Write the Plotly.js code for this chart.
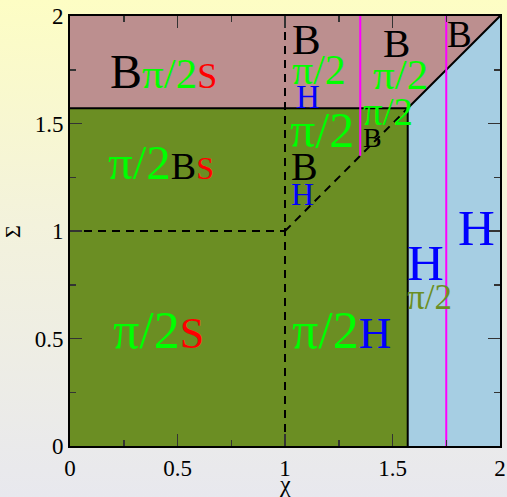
<!DOCTYPE html>
<html>
<head>
<meta charset="utf-8">
<script src="https://cdn.plot.ly/plotly-3.0.1.min.js"></script>
<style>
  html, body { margin: 0; padding: 0; }
  body { background: linear-gradient(to bottom, #fdfdc4 0%, #f3f2dc 45%, #e8e8ee 100%); width: 507px; height: 497px; }
  #plot { width: 507px; height: 497px; }
</style>
</head>
<body>
<div id="plot"></div>
<script>
// boundary value, pi/2
const P = Math.PI / 2;
const FONT = 'Liberation Serif';

// phase regions (polygons in chi, sigma)
const greenX = [0, P, P, 0, 0];
const greenY = [0, 0, P, P, 0];
const rosyX = [0, P, 2, 0, 0];
const rosyY = [P, P, 2, 2, P];
const blueX = [P, 2, 2, P, P];
const blueY = [0, 0, 2, P, 0];

// solid boundaries
const solidX = [0, P, null, P, P, null, P, 2];
const solidY = [P, P, null, 0, P, null, P, 2];
// dashed boundaries
const dashX = [1, 1, null, 0, 1, null, 1, P];
const dashY = [0, 2, null, 1, 1, null, 1, P];
// magenta lines
const magX = [1.35, 1.35, null, 1.75, 1.75];
const magY = [1.35, 2, null, 0, 2];

// labels: position, then pieces [text, colour, size]
const GREEN = '#00ff00', RED = '#ff0000', BLK = '#000000', BLU = '#0000ff', OLV = '#6b8e23';
const labX = [0.18, 0.17, 0.195, 1.03, 1.03, 1.045, 1.02, 1.025, 1.025, 1.36, 1.36, 1.45, 1.405, 1.75, 1.80, 1.565, 1.565, 1.03];
const labY = [1.74, 1.32, 0.537, 1.89, 1.75, 1.624, 1.47, 1.30, 1.171, 1.555, 1.436, 1.875, 1.73, 1.913, 1.016, 0.853, 0.69, 0.539];
const labParts = [
  [['B', BLK, 48], ['π/2', GREEN, 43], ['S', RED, 36]],
  [['π/2', GREEN, 49], ['B', BLK, 38], ['S', RED, 32]],
  [['π/2', GREEN, 52], ['S', RED, 44]],
  [['B', BLK, 43]],
  [['π/2', GREEN, 42]],
  [['H', BLU, 33]],
  [['π/2', GREEN, 50]],
  [['B', BLK, 40]],
  [['H', BLU, 32]],
  [['π/2', GREEN, 39]],
  [['B', BLK, 28]],
  [['B', BLK, 41]],
  [['π/2', GREEN, 43]],
  [['B', BLK, 37]],
  [['H', BLU, 51]],
  [['H', BLU, 51]],
  [['π/2', OLV, 35]],
  [['π/2', GREEN, 52], ['H', BLU, 45]]
];

const xTicks = [0, 0.5, 1, 1.5, 2];
const xTickText = ['0', '0.5', '1', '1.5', '2'];

const traces = [
  { x: greenX, y: greenY, fill: 'toself', fillcolor: '#6b8e23', line: { width: 0 }, mode: 'lines' },
  { x: rosyX, y: rosyY, fill: 'toself', fillcolor: '#bc8f8f', line: { width: 0 }, mode: 'lines' },
  { x: blueX, y: blueY, fill: 'toself', fillcolor: '#a6cee3', line: { width: 0 }, mode: 'lines' },
  { x: dashX, y: dashY, mode: 'lines', line: { color: '#000', width: 2, dash: '8px,6px' } },
  { x: solidX, y: solidY, mode: 'lines', line: { color: '#000', width: 2 } },
  { x: magX, y: magY, mode: 'lines', line: { color: '#ff00ff', width: 2 } }
];

// build the rich text labels
const annotations = labParts.map((parts, i) => ({
  x: labX[i], y: labY[i], xref: 'x', yref: 'y',
  xanchor: 'left', yanchor: 'middle', showarrow: false, borderpad: 0,
  text: parts.map(p => `<span style="color:${p[1]};font-size:${p[2]}px">${p[0]}</span>`).join(''),
  font: { family: FONT, size: 40 }
}));

// axis titles placed by hand (title standoff needs automargin)
annotations.push(
  { text: 'χ', xref: 'paper', yref: 'paper', x: 0.5, y: -0.089, xanchor: 'center', yanchor: 'middle',
    showarrow: false, borderpad: 0, font: { family: FONT, size: 24, color: '#000' } },
  { text: 'Σ', xref: 'paper', yref: 'paper', x: -0.135, y: 0.5, xanchor: 'center', yanchor: 'middle',
    textangle: -90, showarrow: false, font: { family: FONT, size: 22, color: '#000' } }
);

const axisStyle = {
  range: [0, 2], showgrid: false, zeroline: false,
  showline: true, linecolor: '#000', linewidth: 2, mirror: 'allticks',
  ticks: 'inside', ticklen: 12, tickwidth: 1.5, tickcolor: '#333',
  tickvals: xTicks, ticktext: xTickText,
  minor: { ticks: 'inside', ticklen: 6, tickwidth: 1.5, tickcolor: '#333', dtick: 0.25 },
  tickfont: { family: FONT, size: 23, color: '#000' }
};

Plotly.newPlot('plot', traces, {
  width: 507, height: 497,
  margin: { l: 70, r: 7, t: 16, b: 51 },
  showlegend: false,
  font: { family: FONT },
  paper_bgcolor: 'rgba(0,0,0,0)',
  plot_bgcolor: 'rgba(0,0,0,0)',
  xaxis: axisStyle,
  yaxis: axisStyle,
  annotations: annotations
}, { staticPlot: true });
</script>
</body>
</html>
